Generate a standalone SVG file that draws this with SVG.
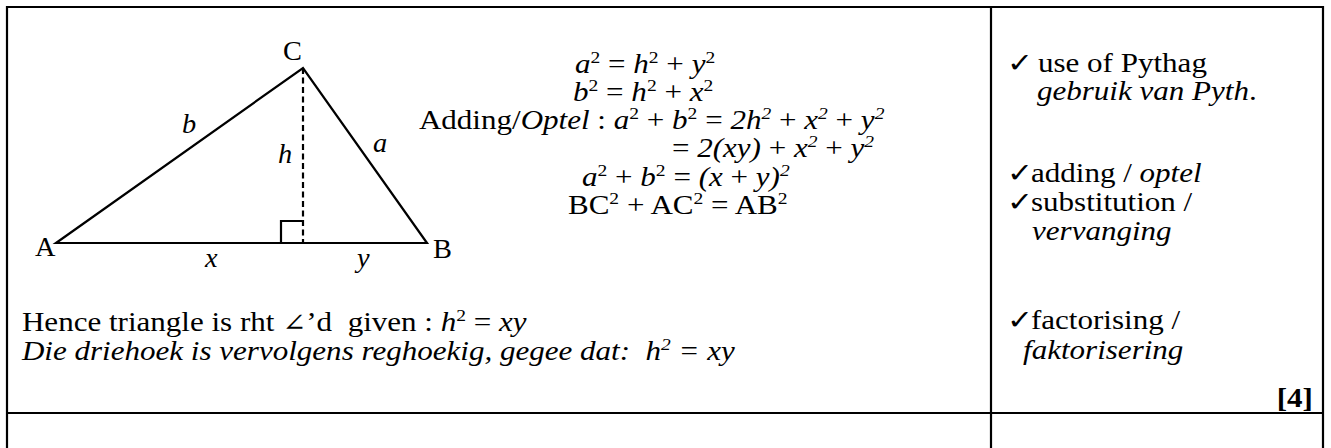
<svg xmlns="http://www.w3.org/2000/svg" width="1331" height="448" viewBox="0 0 1331 448">
<style>
.t text{font-family:"Liberation Serif","Times New Roman",serif;font-size:27px;fill:#000}
.i{font-style:italic}
.b{font-weight:bold}
.s{font-size:17px}
.ck{font-family:"DejaVu Sans",sans-serif;fill:#000}
.ln{stroke:#000;stroke-width:2.2;fill:none}
.tb{stroke:#000;stroke-width:2.2;fill:none}
</style>
<rect width="1331" height="448" fill="#fff"/>
<g id="table">
<path class="tb" d="M7,449 V7 H1323 V449 M991,7 V449 M7,413 H1323"/>
</g>
<g id="triangle">
<path class="ln" d="M56,243 L303,68 L427,243 Z"/>
<path class="ln" d="M303,68 V243" stroke-dasharray="6,3.5"/>
<path class="ln" d="M281,243 V221 H303"/>
</g>
<g id="triangle-labels" class="t" transform="scale(1.05,1)">
<text x="269.5" y="60">C</text>
<text x="33.3" y="256">A</text>
<text x="412.4" y="258">B</text>
<text class="i" x="173.3" y="133">b</text>
<text class="i" x="355.2" y="152">a</text>
<text class="i" x="264.8" y="163">h</text>
<text class="i" x="195.2" y="267">x</text>
<text class="i" x="340" y="267">y</text>
</g>
<g id="equations" class="t" transform="scale(1.15,1)">
<text x="500" y="73"><tspan class="i">a</tspan><tspan dy="-10" class="s">2</tspan><tspan dy="10"> = </tspan><tspan class="i">h</tspan><tspan dy="-10" class="s">2</tspan><tspan dy="10"> + </tspan><tspan class="i">y</tspan><tspan dy="-10" class="s">2</tspan></text>
<text x="498.3" y="101"><tspan class="i">b</tspan><tspan dy="-10" class="s">2</tspan><tspan dy="10"> = </tspan><tspan class="i">h</tspan><tspan dy="-10" class="s">2</tspan><tspan dy="10"> + </tspan><tspan class="i">x</tspan><tspan dy="-10" class="s">2</tspan></text>
<text x="364.3" y="129">Adding/<tspan class="i">Optel</tspan> : <tspan class="i">a</tspan><tspan dy="-10" class="s">2</tspan><tspan dy="10"> + </tspan><tspan class="i">b</tspan><tspan dy="-10" class="s">2</tspan><tspan dy="10"> = </tspan><tspan class="i">2h</tspan><tspan dy="-10" class="s i">2</tspan><tspan dy="10"> + </tspan><tspan class="i">x</tspan><tspan dy="-10" class="s i">2</tspan><tspan dy="10"> + </tspan><tspan class="i">y</tspan><tspan dy="-10" class="s i">2</tspan></text>
<text x="584.3" y="157">= <tspan class="i">2(xy)</tspan> + <tspan class="i">x</tspan><tspan dy="-10" class="s i">2</tspan><tspan dy="10"> + </tspan><tspan class="i">y</tspan><tspan dy="-10" class="s i">2</tspan></text>
<text x="506.1" y="186"><tspan class="i">a</tspan><tspan dy="-10" class="s">2</tspan><tspan dy="10"> + </tspan><tspan class="i">b</tspan><tspan dy="-10" class="s">2</tspan><tspan dy="10"> = </tspan><tspan class="i">(x</tspan> + <tspan class="i">y)</tspan><tspan dy="-10" class="s i">2</tspan></text>
<text x="493.9" y="214">BC<tspan dy="-10" class="s">2</tspan><tspan dy="10"> + AC</tspan><tspan dy="-10" class="s">2</tspan><tspan dy="10"> = AB</tspan><tspan dy="-10" class="s">2</tspan></text>
</g>
<g id="conclusion" class="t" transform="scale(1.15,1)">
<text x="19.1" y="331" xml:space="preserve">Hence triangle is rht <tspan font-family="DejaVu Serif" font-size="25">∠</tspan>’d  given : <tspan class="i">h</tspan><tspan dy="-10" class="s">2</tspan><tspan dy="10"> = </tspan><tspan class="i">xy</tspan></text>
<text x="19.1" y="360" class="i" xml:space="preserve">Die driehoek is vervolgens reghoekig, gegee dat:  h<tspan dy="-10" class="s">2</tspan><tspan dy="10"> = xy</tspan></text>
</g>
<g id="marks" class="t" transform="scale(1.15,1)">
<text class="ck" x="875.7" y="72" font-size="21">✓</text>
<text x="902.6" y="72">use of Pythag</text>
<text x="901.7" y="100" class="i">gebruik van Pyth<tspan font-style="normal">.</tspan></text>
<text class="ck" x="875.7" y="182" font-size="27">✓</text>
<text x="896.5" y="182">adding / <tspan class="i">optel</tspan></text>
<text class="ck" x="875.7" y="211" font-size="27">✓</text>
<text x="896.5" y="211">substitution /</text>
<text x="897.4" y="240" class="i">vervanging</text>
<text class="ck" x="875.7" y="329" font-size="27">✓</text>
<text x="896.5" y="329">factorising /</text>
<text x="889.6" y="359" class="i">faktorisering</text>
<text x="1141.7" y="407" class="b" text-anchor="end">[4]</text>
</g>
</svg>
